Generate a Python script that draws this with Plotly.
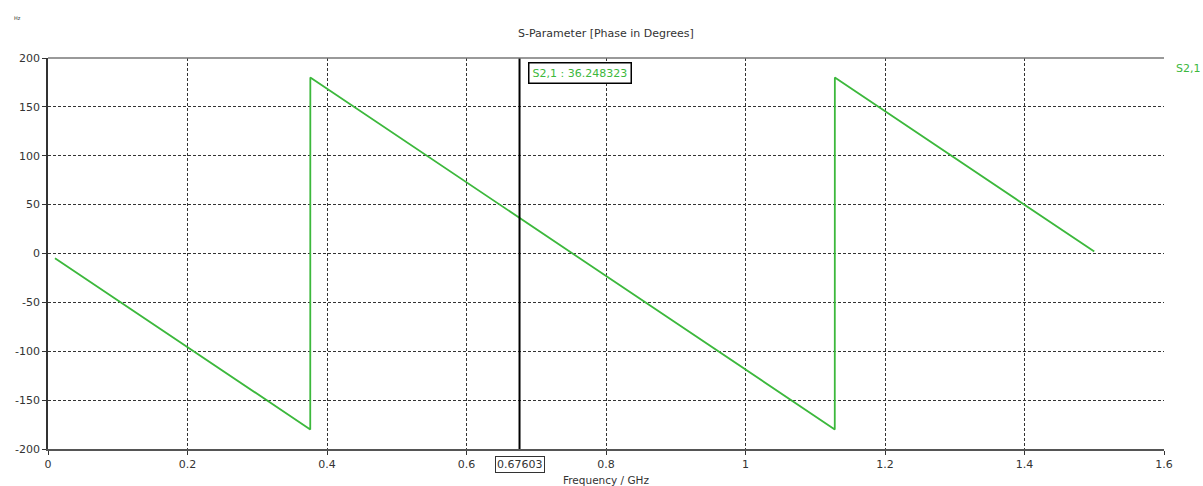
import plotly.graph_objects as go

# Data (straight segments of a wrapped phase response)
freq_ghz = [0.01, 0.376, 0.3761, 1.128, 1.1281, 1.5]
phase_deg = [-4.8, -180.0, 180.0, -180.0, 180.0, 2.0]

marker_freq = 0.67603
marker_value = 36.248323

x_ticks = [0, 0.2, 0.4, 0.6, 0.8, 1, 1.2, 1.4, 1.6]
x_tick_text = ["0", "0.2", "0.4", "0.6", "0.8", "1", "1.2", "1.4", "1.6"]
y_ticks = [-200, -150, -100, -50, 0, 50, 100, 150, 200]
y_tick_text = ["-200", "-150", "-100", "-50", "0", "50", "100", "150", "200"]

GREEN = "#3cb83c"
FONT = "DejaVu Sans"

fig = go.Figure()
fig.add_trace(go.Scatter(x=freq_ghz, y=phase_deg, mode="lines",
                         line=dict(color=GREEN, width=1.8), name="S2,1",
                         showlegend=False, hoverinfo="skip"))

# marker line
fig.add_shape(type="line", xref="x", yref="paper", x0=marker_freq, x1=marker_freq,
              y0=0, y1=1, line=dict(color="black", width=2))

# top border
fig.add_shape(type="line", xref="paper", yref="paper", x0=0, x1=1, y0=1, y1=1,
              line=dict(color="#777", width=1.5))

fig.add_annotation(x=marker_freq, y=1, xref="x", yref="paper", xanchor="left", yanchor="top",
                   xshift=8, yshift=-4, text="S2,1 : %.6f" % marker_value, showarrow=False,
                   font=dict(family=FONT, size=11, color=GREEN),
                   bordercolor="black", borderwidth=1.5, borderpad=3, bgcolor="white")

fig.add_annotation(x=marker_freq, y=0, xref="x", yref="paper", xanchor="center", yanchor="top",
                   yshift=-7, text="%.5f" % marker_freq, showarrow=False,
                   font=dict(family=FONT, size=11, color="#333"),
                   bordercolor="#333", borderwidth=1, borderpad=1, bgcolor="white")

fig.add_annotation(x=1, y=1, xref="paper", yref="paper", xanchor="left", yanchor="top",
                   xshift=10, yshift=-2, text="S2,1", showarrow=False,
                   font=dict(family=FONT, size=11, color=GREEN))

fig.add_annotation(x=0.5, y=0, xref="paper", yref="paper", xanchor="center", yanchor="top",
                   yshift=-23, text="Frequency / GHz", showarrow=False,
                   font=dict(family=FONT, size=10.5, color="#333"))

fig.add_annotation(x=0, y=1, xref="paper", yref="paper", xanchor="left", yanchor="bottom",
                   xshift=-36, yshift=35, text="Hz", showarrow=False,
                   font=dict(family=FONT, size=5, color="#333"))

fig.update_layout(
    width=1203, height=486,
    margin=dict(l=48, r=39, t=58, b=37),
    paper_bgcolor="white", plot_bgcolor="white",
    title=dict(text="S-Parameter [Phase in Degrees]", x=0.5037, xanchor="center",
               y=1 - 33 / 486, yanchor="middle",
               font=dict(family=FONT, size=11, color="#333")),
    xaxis=dict(range=[0, 1.6], tickvals=x_ticks, ticktext=x_tick_text,
               showgrid=True, gridcolor="#333", griddash="3px,2px", gridwidth=1,
               showline=True, linecolor="#555", linewidth=1.5,
               ticks="outside", ticklen=4, tickcolor="#333",
               tickfont=dict(family=FONT, size=11, color="#333"), zeroline=False),
    yaxis=dict(range=[-200, 200], tickvals=y_ticks, ticktext=y_tick_text,
               showgrid=True, gridcolor="#333", griddash="3px,2px", gridwidth=1,
               showline=True, linecolor="#333", linewidth=1.5,
               ticks="outside", ticklen=4, tickcolor="#333",
               tickfont=dict(family=FONT, size=11, color="#333"), zeroline=False),
)

fig.write_html("out.html")
